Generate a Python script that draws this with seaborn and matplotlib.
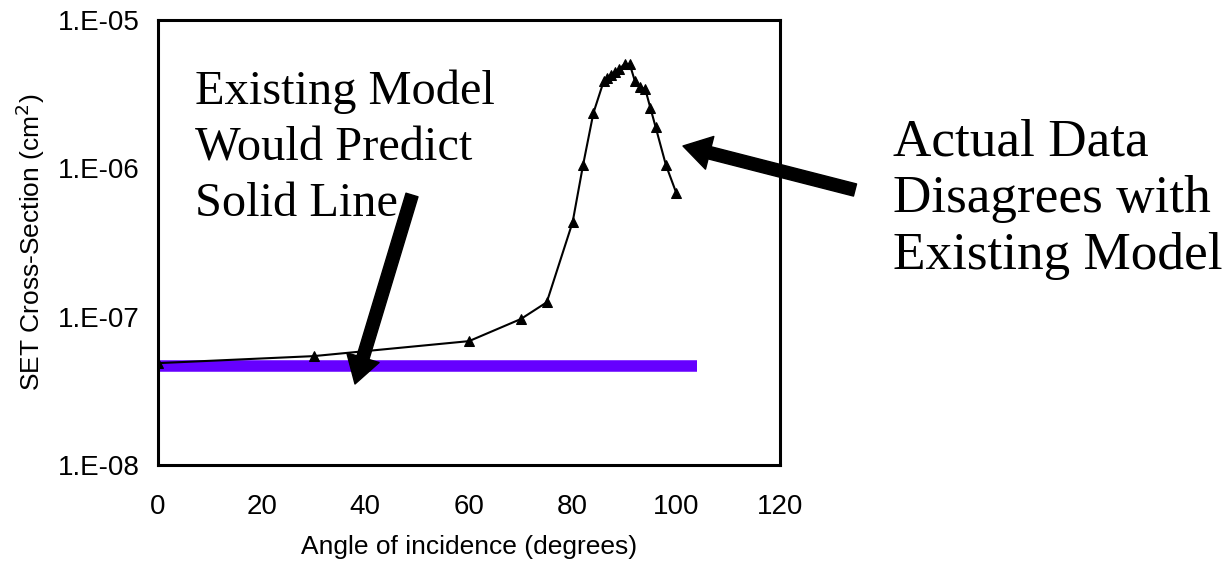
import matplotlib
matplotlib.use("Agg")
import matplotlib.pyplot as plt
from matplotlib.patches import FancyArrowPatch
from matplotlib.ticker import FixedLocator, LogLocator, NullFormatter, MultipleLocator
import seaborn as sns
import pandas as pd

# ---- data ----
angle_deg = [0, 30, 60, 70, 75, 80, 82, 84, 86, 86.7, 87.4, 88.2, 89, 90, 91,
             92, 93, 94, 95, 96, 98, 100]
cross_section = [4.86e-8, 5.42e-8, 6.84e-8, 9.64e-8, 1.25e-7, 4.35e-7, 1.05e-6,
                 2.36e-6, 3.88e-6, 4.07e-6, 4.26e-6, 4.46e-6, 4.67e-6, 5.05e-6,
                 5.05e-6, 3.88e-6, 3.53e-6, 3.42e-6, 2.55e-6, 1.90e-6, 1.05e-6,
                 6.81e-7]
model_angle = [0, 104]
model_value = [4.65e-8, 4.65e-8]

x_ticks = [0, 20, 40, 60, 80, 100, 120]
y_ticks = [1e-8, 1e-7, 1e-6, 1e-5]
y_tick_labels = ["1.E-08", "1.E-07", "1.E-06", "1.E-05"]

left_text = "Existing Model\nWould Predict\nSolid Line"
right_text = "Actual Data\nDisagrees with\nExisting Model"
x_label = "Angle of incidence (degrees)"
y_label = "SET Cross-Section (cm$^{2}$)"

sns.set_style("white")
plt.rcParams["font.family"] = ["Liberation Sans", "DejaVu Sans"]
plt.rcParams["text.color"] = "black"
plt.rcParams["axes.labelcolor"] = "black"
plt.rcParams["xtick.color"] = "black"
plt.rcParams["ytick.color"] = "black"

fig = plt.figure(figsize=(12.25, 5.63), dpi=100)
ax = fig.add_axes([158 / 1225, 1 - 465 / 563, (780 - 158) / 1225, 445 / 563])

model_df = pd.DataFrame({"angle": model_angle, "value": model_value})
data_df = pd.DataFrame({"angle": angle_deg, "value": cross_section})

sns.lineplot(data=model_df, x="angle", y="value", ax=ax, color="#6600FF",
             linewidth=8.3, solid_capstyle="butt", zorder=2)
sns.lineplot(data=data_df, x="angle", y="value", ax=ax, color="black",
             linewidth=1.5, marker="^", markersize=7, markeredgecolor="black",
             markerfacecolor="black", sort=False, zorder=3)

ax.set_yscale("log")
ax.set_xlim(0, 120)
ax.set_ylim(1e-8, 1e-5)
ax.xaxis.set_major_locator(FixedLocator(x_ticks))
ax.xaxis.set_minor_locator(MultipleLocator(5))
ax.yaxis.set_major_locator(FixedLocator(y_ticks))
ax.set_yticklabels(y_tick_labels)
ax.yaxis.set_minor_locator(LogLocator(base=10, subs=range(2, 10)))
ax.yaxis.set_minor_formatter(NullFormatter())

for s in ax.spines.values():
    s.set_visible(True)
    s.set_color("black")
    s.set_linewidth(2.2)

ax.tick_params(axis="x", which="both", direction="in", length=5, width=1.3,
               color="black", labelsize=20, pad=21, top=False)
ax.tick_params(axis="y", which="both", direction="in", length=5, width=1.3,
               color="black", labelsize=20, pad=13, right=False)
ax.tick_params(axis="both", which="major", length=7)

ax.set_xlabel(x_label, fontsize=19, labelpad=11)
ax.set_ylabel(y_label, fontsize=19, labelpad=8)

serif = ["Liberation Serif", "DejaVu Serif"]
fig.text(195 / 1225, 1 - 70 / 563, left_text, fontsize=34.8, family=serif,
         va="top", ha="left", linespacing=1.34, color="black")
fig.text(893 / 1225, 1 - 118 / 563, right_text, fontsize=38.3, family=serif,
         va="top", ha="left", linespacing=1.25, color="black")

arrow_style = "simple,head_length=1.1,head_width=1.35,tail_width=0.5"
for tail, head in [((412, 195), (355, 384)), ((855, 190), (683, 146))]:
    fig.patches.append(FancyArrowPatch(
        (tail[0] / 1225, 1 - tail[1] / 563), (head[0] / 1225, 1 - head[1] / 563),
        transform=fig.transFigure, arrowstyle=arrow_style, mutation_scale=18,
        color="black", shrinkA=0, shrinkB=0, zorder=5))

fig.savefig("out.png", dpi=100)
